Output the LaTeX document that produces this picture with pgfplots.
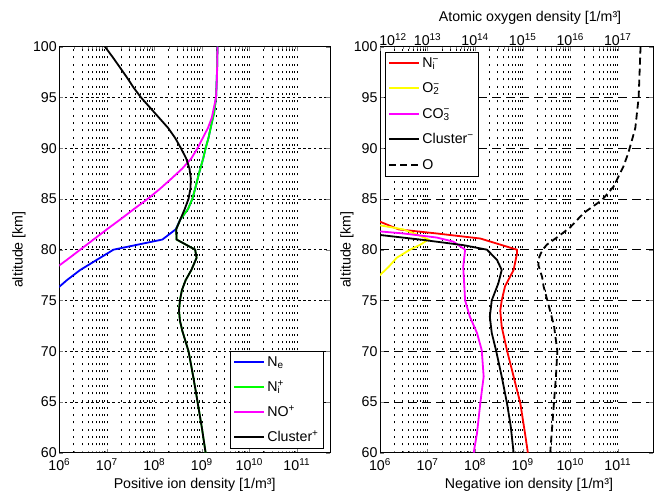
\documentclass[border=0pt]{standalone}
\usepackage{fontspec}
\setmainfont{Liberation Sans}
\usepackage{pgfplots}
\pgfplotsset{compat=1.18}
\definecolor{mblue}{rgb}{0,0,1}
\definecolor{mgreen}{rgb}{0,1,0}
\definecolor{mmag}{rgb}{1,0,1}
\definecolor{mred}{rgb}{1,0,0}
\definecolor{myel}{rgb}{1,1,0}
\newcommand{\fs}{\fontsize{14.2}{17}\selectfont}
\newcommand{\mn}{\char"2212}
\begin{document}
\begin{tikzpicture}
\useasboundingbox (0,0) rectangle (657pt,494pt);
% ---------------- left panel ----------------
\begin{axis}[at={(59.3pt,41.3pt)}, anchor=south west,
  scale only axis, width=270.7pt, height=406pt,
  xmode=log, xmin=1e6, xmax=5e11,
  ymin=60, ymax=100, ytick={60,65,...,100},
  tick align=inside,
  major tick length=4pt, minor tick length=2pt,
  axis line style={line width=0.8pt},
  tick label style={font=\fs},
  label style={font=\fs},
  yticklabel style={/pgf/number format/assume math mode=true, xshift=1pt},
  xticklabel style={yshift=-2.5pt},
  xtick={1e6,1e7,1e8,1e9,1e10,1e11},
  xticklabels={10\textsuperscript{6},10\textsuperscript{7},10\textsuperscript{8},10\textsuperscript{9},10\textsuperscript{10},10\textsuperscript{11}},
  xmajorgrids, xminorgrids, ymajorgrids,
  major grid style={black, line width=0.6pt, dash pattern=on 2pt off 5.3pt},
  minor grid style={black, line width=0.6pt, dash pattern=on 2pt off 5.3pt},
  major y grid style={black, line width=0.6pt, dash pattern=on 2.7pt off 2.6pt},
  xlabel={Positive ion density [1/m³]},
  ylabel={altitude [km]},
  xlabel style={at={(axis description cs:0.5,0)}, anchor=center, yshift=-31.8pt},
  ylabel style={at={(axis description cs:0,0.5)}, anchor=center, yshift=40.3pt},
  legend cell align=left,
  legend image code/.code={\draw[#1, line width=2pt] (0pt,0.3pt) -- (30pt,0.3pt);},
  legend style={at={(0.978,0.009)}, anchor=south east, draw=black, line width=1pt, fill=white, font=\fs, inner xsep=3pt, inner ysep=3.5pt, row sep=8.5pt},
]
\addplot[mblue, line width=1.8pt] coordinates {(2.138e9,100) (2.089e9,97.5) (1.995e9,95) (1.820e9,93.5) (1.622e9,92.5) (1.380e9,91) (1.202e9,90) (1.072e9,89) (8.710e8,87.5) (7.244e8,86) (6.31e8,85) (5.129e8,84) (3.548e8,83) (2.818e8,82) (1.479e8,81) (1.380e7,80) (6.166e6,79) (2.754e6,78) (1.445e6,77) (1e6,76.35) (7.943e5,76)};
\addlegendentry{N\textsubscript{e}}
\addplot[mgreen, line width=1.8pt] coordinates {(2.138e9,100) (2.089e9,97.5) (1.995e9,95) (1.820e9,93.5) (1.622e9,92.5) (1.380e9,91) (1.202e9,90) (1.072e9,89) (8.710e8,87.5) (7.244e8,86) (6.31e8,85) (5.129e8,84) (3.548e8,83) (2.884e8,82) (2.951e8,81) (7.244e8,80) (7.762e8,79.2) (6.026e8,78) (4.571e8,77) (3.802e8,76) (3.467e8,75) (3.311e8,74) (3.467e8,73) (3.89e8,72) (5.248e8,70) (6.31e8,68) (7.5e8,66) (8.128e8,65) (1e9,62.5) (1.202e9,60)};
\addlegendentry{N\rlap{\textsuperscript{+}}\textsubscript{i}}
\addplot[mmag, line width=1.8pt] coordinates {(2.138e9,100) (2.089e9,97) (1.995e9,95) (1.622e9,93) (1.349e9,92) (1.047e9,91) (8.128e8,90) (6.026e8,89) (3.89e8,88) (2.291e8,87) (1.318e8,86) (7.244e7,85) (3.715e7,84) (1.950e7,83) (1e7,82) (5.248e6,81) (2.754e6,80) (1.445e6,79) (7.413e5,78)};
\addlegendentry{NO\textsuperscript{+}}
\addplot[black, line width=1.8pt] coordinates {(9.12e6,100) (1.318e7,99) (1.862e7,98) (2.63e7,97) (3.631e7,96) (5.248e7,95) (8.128e7,94) (1.259e8,93) (1.95e8,92) (2.754e8,91) (3.631e8,90) (4.677e8,89) (5.495e8,88) (5.888e8,87) (5.754e8,86) (5.248e8,85) (4.365e8,84) (3.548e8,83) (2.884e8,82) (2.951e8,81) (7.244e8,80) (7.762e8,79.2) (6.026e8,78) (4.571e8,77) (3.802e8,76) (3.467e8,75) (3.311e8,74) (3.467e8,73) (3.89e8,72) (5.248e8,70) (6.31e8,68) (7.5e8,66) (8.128e8,65) (1e9,62.5) (1.202e9,60)};
\addlegendentry{Cluster\textsuperscript{+}}
\end{axis}
% ---------------- right panel ----------------
\begin{axis}[at={(380pt,41.3pt)}, anchor=south west,
  scale only axis, width=273.3pt, height=406pt,
  xmode=log, xmin=1e6, xmax=5.6e11,
  ymin=60, ymax=100, ytick={60,65,...,100},
  tick align=inside,
  major tick length=4pt, minor tick length=2pt,
  axis line style={line width=0.8pt},
  tick label style={font=\fs},
  label style={font=\fs},
  yticklabel style={/pgf/number format/assume math mode=true, xshift=1pt},
  xticklabel style={yshift=-2.5pt},
  xtick pos=bottom,
  xtick={1e6,1e7,1e8,1e9,1e10,1e11},
  xticklabels={10\textsuperscript{6},10\textsuperscript{7},10\textsuperscript{8},10\textsuperscript{9},10\textsuperscript{10},10\textsuperscript{11}},
  xmajorgrids, xminorgrids, ymajorgrids,
  major grid style={black, line width=0.6pt, dash pattern=on 2pt off 5.3pt},
  minor grid style={black, line width=0.6pt, dash pattern=on 2pt off 5.3pt},
  major y grid style={black, line width=0.6pt, dash pattern=on 9pt off 5pt},
  xlabel={Negative ion density [1/m³]},
  ylabel={altitude [km]},
  xlabel style={at={(axis description cs:0.545,0)}, anchor=center, yshift=-31.8pt},
  ylabel style={at={(axis description cs:0,0.5)}, anchor=center, yshift=33pt},
]
\addplot[mred, line width=1.8pt] coordinates {(7.586e5,83) (1e6,82.76) (2.455e6,82) (1.549e7,81.6) (1.288e8,81.1) (7.586e8,80) (7.586e8,79.6) (6.457e8,78) (4.266e8,76.4) (3.631e8,75) (3.388e8,74) (3.631e8,72.4) (4.677e8,70.1) (6.457e8,67.5) (8.913e8,64.9) (1.122e9,61.9) (1.288e9,60)};
\addplot[myel, line width=1.8pt] coordinates {(5.623e5,82.6) (1e6,82.4) (3.09e6,82) (6.31e6,81.45) (1.047e7,81) (7.079e6,80.5) (4.266e6,80) (2.239e6,79.2) (1.514e6,78.3) (1e6,77.5) (7.943e5,77)};
\addplot[mmag, line width=1.8pt] coordinates {(5.623e5,81.9) (1e6,81.8) (3.09e6,81.6) (1.549e7,81.2) (3.467e7,80.8) (6.166e7,80) (5.623e7,78.3) (5.888e7,76.7) (6.166e7,75) (7.762e7,73.4) (1.096e8,71.8) (1.380e8,70.1) (1.514e8,67.5) (1.288e8,64.9) (1.096e8,61.9) (9.333e7,60)};
\addplot[black, line width=1.8pt] coordinates {(5.25e5,81.6) (1e6,81.45) (6.918e6,81) (5.623e7,80.45) (1.778e8,80) (2.884e8,79) (3.631e8,78) (3.090e8,76.7) (2.239e8,75) (2.042e8,73.4) (2.239e8,71.8) (2.754e8,70.1) (3.631e8,67.5) (4.677e8,64.9) (5.623e8,62.6) (6.457e8,60)};
\end{axis}
% ---------------- top axis (atomic oxygen) ----------------
\begin{axis}[at={(380pt,41.3pt)}, anchor=south west,
  scale only axis, width=273.3pt, height=406pt,
  xmode=log, xmin=1e12, xmax=5.6e17,
  ymin=60, ymax=100,
  axis x line*=top, hide y axis,
  tick align=inside,
  major tick length=4pt, minor tick length=2pt,
  axis line style={line width=0.8pt},
  tick label style={font=\fs},
  label style={font=\fs},
  xtick={1e12,1e13,1e14,1e15,1e16,1e17},
  xticklabels={\hspace*{26pt}10\textsuperscript{12},10\textsuperscript{13},10\textsuperscript{14},10\textsuperscript{15},10\textsuperscript{16},10\textsuperscript{17}},
  xticklabel style={yshift=-2.5pt},
  xlabel={Atomic oxygen density [1/m³]},
  xlabel style={at={(axis description cs:0.549,1)}, anchor=center, yshift=29.2pt},
  legend cell align=left,
  legend image code/.code={\draw[#1, line width=2pt] (0pt,0.3pt) -- (30pt,0.3pt);},
  legend style={at={(0.018,0.988)}, anchor=north west, draw=black, line width=1pt, fill=white, font=\fs, inner xsep=3pt, inner ysep=3.5pt, row sep=10pt},
]
\addlegendimage{mred, line width=1.8pt}
\addlegendentry{N\rlap{\textsuperscript{\mn}}\textsubscript{i}}
\addlegendimage{myel, line width=1.8pt}
\addlegendentry{O\rlap{\textsuperscript{\mn}}\textsubscript{2}}
\addlegendimage{mmag, line width=1.8pt}
\addlegendentry{CO\rlap{\textsuperscript{\mn}}\textsubscript{3}}
\addlegendimage{black, line width=1.8pt}
\addlegendentry{Cluster\textsuperscript{\mn}}
\addplot[black, line width=1.8pt, dash pattern=on 7pt off 4pt] coordinates {(3.02e17,100) (2.884e17,97.5) (2.754e17,95) (2.344e17,92) (1.995e17,90.8) (1.660e17,89.5) (1.318e17,88.2) (8.128e16,86.2) (4.677e16,84.9) (1.905e16,83.6) (1e16,82.2) (5.248e15,81.2) (3.236e15,80.5) (2.630e15,80) (2.239e15,79.3) (2.138e15,78.5) (2.570e15,77.3) (2.754e15,76.4) (3.311e15,75) (4.571e15,72.5) (5.370e15,70) (5.012e15,67.5) (4.571e15,65) (4.169e15,62.5) (3.802e15,60)};
\addlegendentry{O}
\end{axis}
\end{tikzpicture}
\end{document}
